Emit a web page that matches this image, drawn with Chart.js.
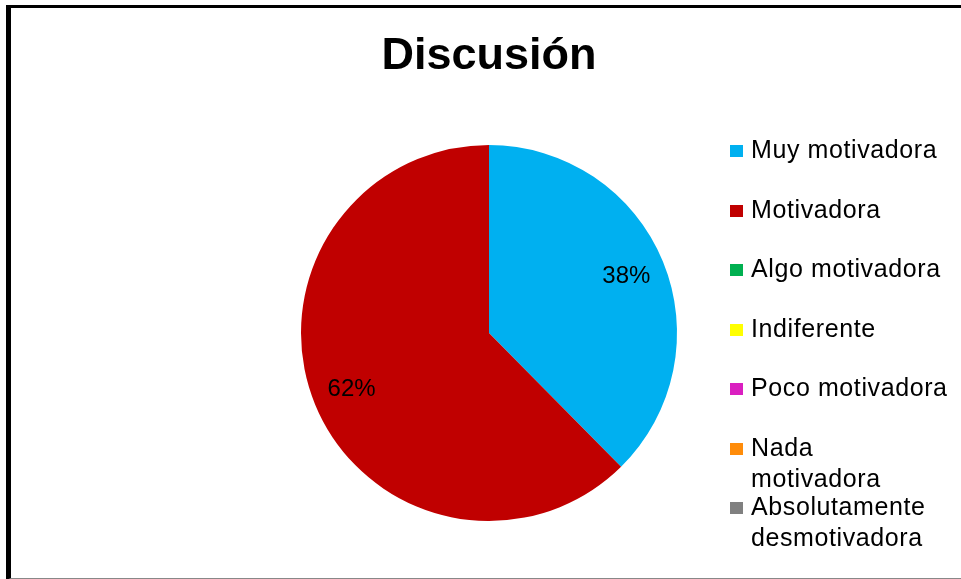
<!DOCTYPE html>
<html>
<head>
<meta charset="utf-8">
<script src="https://cdn.jsdelivr.net/npm/chart.js@4/dist/chart.umd.min.js"></script>
<style>
  html, body { margin: 0; padding: 0; background: #fff; overflow: hidden; }
  #wrap { position: relative; width: 961px; height: 579px; }
  #discusionChart { position: absolute; left: 0; top: 0; }
  #frame {
    position: absolute; left: 6px; top: 5px; width: 1000px; height: 570px;
    border-left: 5px solid #000; border-top: 3px solid #000; border-bottom: 2px solid #888;
    pointer-events: none;
  }
  #legend {
    position: absolute; left: 730px; top: 134px;
    font-family: "Liberation Sans", Arial, sans-serif; font-size: 25px; letter-spacing: 0.6px; color: #000;
  }
  .item { position: relative; height: 59.5px; line-height: 31px; white-space: nowrap; }
  .item .box { position: absolute; left: 0; top: 11px; width: 13px; height: 12px; }
  .item .txt { position: absolute; left: 21px; top: 0; }
</style>
</head>
<body>
<div id="wrap">
  <canvas id="discusionChart" width="961" height="579"></canvas>
  <div id="frame"></div>
  <div id="legend"></div>
</div>
<script>
/* Discusion - grafico de pizza */

const CATEGORIES = [
  'Muy motivadora',
  'Motivadora',
  'Algo motivadora',
  'Indiferente',
  'Poco motivadora',
  ['Nada', 'motivadora'],
  ['Absolutamente', 'desmotivadora'],
];

const VALUES = [37.6, 62.4, 0, 0, 0, 0, 0];

const COLORS = ['#00B0F0', '#C00000', '#00B050', '#FFFF00', '#DA1FC0', '#FF8C0A', '#808080'];

const FONT = '"Liberation Sans", Arial, sans-serif';

// rotulos de percentagem dentro das fatias
const pctLabels = {
  id: 'pctLabels',
  afterDatasetsDraw(chart) {
    const { ctx } = chart;
    const meta = chart.getDatasetMeta(0);
    const data = chart.data.datasets[0].data;
    const total = data.reduce((a, b) => a + b, 0);
    ctx.save();
    ctx.font = '24px ' + FONT;
    ctx.fillStyle = '#000';
    ctx.textAlign = 'center';
    ctx.textBaseline = 'middle';
    meta.data.forEach((arc, i) => {
      const v = data[i];
      if (!v) return;
      const p = arc.getProps(['x', 'y', 'startAngle', 'endAngle', 'outerRadius'], true);
      const mid = (p.startAngle + p.endAngle) / 2;
      const r = p.outerRadius * 0.79;
      const pct = Math.round((v / total) * 100) + '%';
      ctx.fillText(pct, p.x + Math.cos(mid) * r, p.y + Math.sin(mid) * r);
    });
    ctx.restore();
  },
};

function buildLegend() {
  const box = document.getElementById('legend');
  CATEGORIES.forEach((label, i) => {
    const item = document.createElement('div');
    item.className = 'item';
    const sw = document.createElement('span');
    sw.className = 'box';
    sw.style.background = COLORS[i];
    const txt = document.createElement('span');
    txt.className = 'txt';
    const lines = Array.isArray(label) ? label : [label];
    lines.forEach((ln, k) => {
      if (k) txt.appendChild(document.createElement('br'));
      txt.appendChild(document.createTextNode(ln));
    });
    item.appendChild(sw);
    item.appendChild(txt);
    box.appendChild(item);
  });
}

new Chart(document.getElementById('discusionChart').getContext('2d'), {
  type: 'pie',
  data: {
    labels: CATEGORIES,
    datasets: [{
      data: VALUES,
      backgroundColor: COLORS,
      borderWidth: 0,
    }],
  },
  options: {
    responsive: false,
    animation: false,
    layout: { padding: { left: 250, right: 233, top: 0, bottom: 58 } },
    plugins: {
      legend: { display: false },
      tooltip: { enabled: false },
      title: {
        display: true,
        text: 'Discusión',
        color: '#000',
        font: { family: FONT, size: 45, weight: 'bold' },
        padding: { top: 30, bottom: 61 },
      },
    },
  },
  plugins: [pctLabels],
});

buildLegend();
</script>
</body>
</html>
